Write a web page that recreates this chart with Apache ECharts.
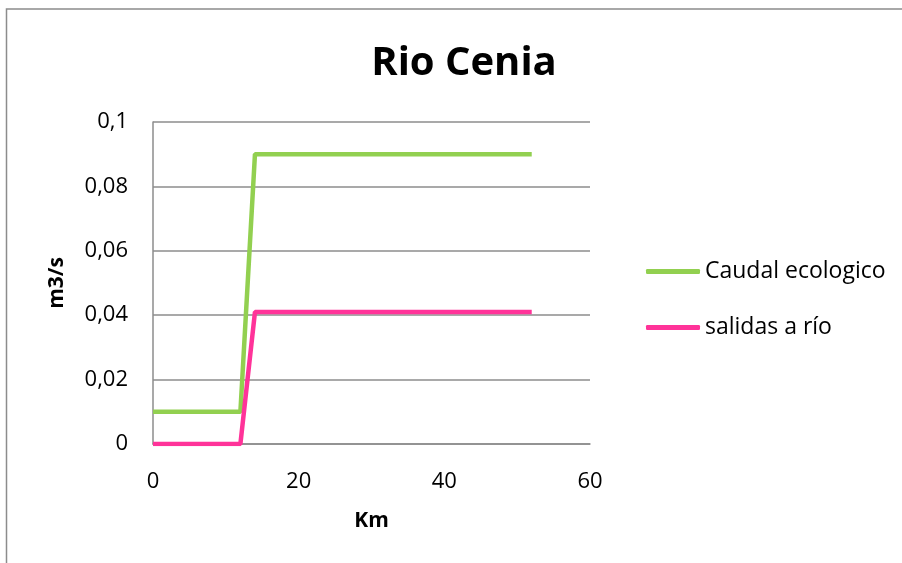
<!DOCTYPE html>
<html>
<head>
<meta charset="utf-8">
<script src="https://cdn.jsdelivr.net/npm/echarts@6/dist/echarts.min.js"></script>
<style>
  html, body { margin: 0; padding: 0; background: #fff; }
  #chart { width: 902px; height: 563px; }
</style>
</head>
<body>
<div id="chart"></div>
<script>
// Distance along the river (km) and flows (m3/s)
const km = [0, 12, 14, 52];
const caudalEcologico = [0.01, 0.01, 0.09, 0.09];
const salidasARio = [0, 0, 0.041, 0.041];
const seriesNames = ['Caudal ecologico', 'salidas a río'];

const font = '"Open Sans", "Liberation Sans", sans-serif';
const chart = echarts.init(document.getElementById('chart'));

const pairs = (xs, ys) => xs.map((x, i) => [x, ys[i]]);

chart.setOption({
  backgroundColor: '#fff',
  animation: false,
  title: {
    text: 'Rio Cenia',
    left: 459, top: 39, textAlign: 'center',
    textStyle: { fontFamily: font, fontSize: 40, fontWeight: 'bold', color: '#000' }
  },
  graphic: [{
    type: 'rect',
    shape: { x: 6.5, y: 9, width: 1000, height: 700 },
    style: { fill: 'none', stroke: '#8c8c8c', lineWidth: 1.5 },
    silent: true
  }],
  legend: {
    orient: 'vertical',
    left: 646, top: 260, padding: 0,
    itemWidth: 54, itemHeight: 5, itemGap: 33,
    icon: 'roundRect',
    textStyle: { fontFamily: font, fontSize: 23, color: '#000' },
    data: seriesNames
  },
  grid: { left: 153, top: 122, width: 437, height: 322 },
  xAxis: {
    type: 'value', min: 0, max: 60, interval: 20,
    name: 'Km', nameLocation: 'middle', nameGap: 67,
    nameTextStyle: { fontFamily: font, fontSize: 21, fontWeight: 'bold', color: '#000' },
    axisLine: { show: true, lineStyle: { color: '#8c8c8c', width: 1.5 } },
    axisTick: { show: false },
    axisLabel: { fontFamily: font, fontSize: 22, color: '#000', margin: 27 },
    splitLine: { show: false }
  },
  yAxis: {
    type: 'value', min: 0, max: 0.1, interval: 0.02,
    name: 'm3/s', nameLocation: 'middle', nameGap: 85, nameRotate: 90,
    nameTextStyle: { fontFamily: font, fontSize: 21, fontWeight: 'bold', color: '#000' },
    axisLine: { show: true, lineStyle: { color: '#8c8c8c', width: 1.5 } },
    axisTick: { show: false },
    axisLabel: {
      fontFamily: font, fontSize: 22, color: '#000', margin: 25,
      formatter: v => String(Math.round(v * 100) / 100).replace('.', ',')
    },
    splitLine: { show: true, lineStyle: { color: '#8c8c8c', width: 1.5 } }
  },
  series: [
    {
      name: seriesNames[0], type: 'line', data: pairs(km, caudalEcologico),
      symbol: 'none', lineStyle: { color: '#92d050', width: 4.5 }, itemStyle: { color: '#92d050' }
    },
    {
      name: seriesNames[1], type: 'line', data: pairs(km, salidasARio),
      symbol: 'none', lineStyle: { color: '#ff3399', width: 4.5 }, itemStyle: { color: '#ff3399' }
    }
  ]
});
</script>
</body>
</html>
